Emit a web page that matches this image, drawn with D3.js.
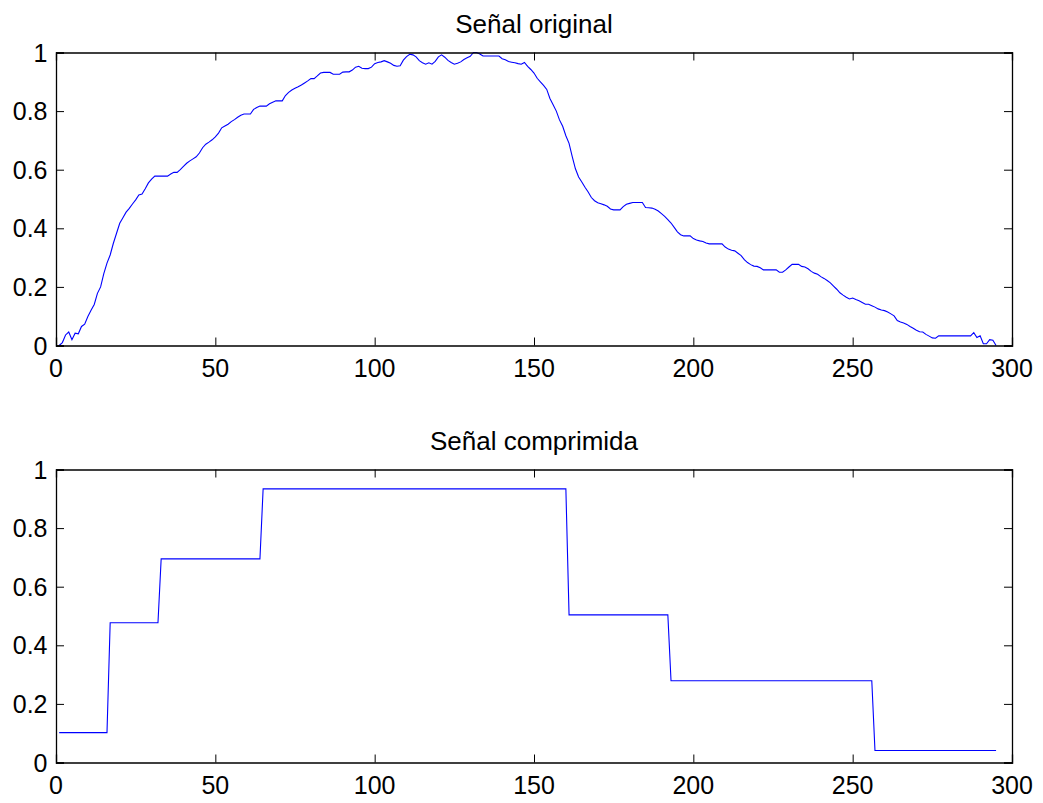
<!DOCTYPE html>
<html>
<head>
<meta charset="utf-8">
<script src="https://cdn.jsdelivr.net/npm/d3@7"></script>
<style>
  html, body { margin: 0; padding: 0; background: #fff; }
  svg { display: block; }
  text { font-family: "Liberation Sans", Arial, Helvetica, sans-serif; fill: #000; }
</style>
</head>
<body>
<svg id="chart" width="1043" height="803"></svg>
<script>
// ---------------- data ----------------
const titles = ["Señal original", "Señal comprimida"];
const xTicks = [0, 50, 100, 150, 200, 250, 300];
const yTicks = [0, 0.2, 0.4, 0.6, 0.8, 1];
const yTickLabels = ["0", "0.2", "0.4", "0.6", "0.8", "1"];

// original signal, samples 1..295
const original = [
  0.000, 0.010, 0.036, 0.046, 0.020, 0.042, 0.040, 0.065, 0.073, 0.099,   // 1-10
  0.120, 0.140, 0.178, 0.200, 0.245, 0.281, 0.309, 0.349, 0.383, 0.417,   // 11-20
  0.436, 0.455, 0.468, 0.483, 0.497, 0.514, 0.517, 0.535, 0.555, 0.568,   // 21-30
  0.578, 0.578, 0.578, 0.578, 0.578, 0.585, 0.591, 0.591, 0.600, 0.611,   // 31-40
  0.622, 0.630, 0.637, 0.644, 0.657, 0.675, 0.687, 0.694, 0.702, 0.712,   // 41-50
  0.725, 0.743, 0.749, 0.755, 0.764, 0.771, 0.779, 0.786, 0.790, 0.790,   // 51-60
  0.790, 0.806, 0.812, 0.817, 0.817, 0.817, 0.825, 0.830, 0.835, 0.835,   // 61-70
  0.835, 0.853, 0.864, 0.872, 0.878, 0.883, 0.889, 0.896, 0.903, 0.911,   // 71-80
  0.911, 0.920, 0.930, 0.932, 0.932, 0.932, 0.926, 0.926, 0.926, 0.933,   // 81-90
  0.934, 0.934, 0.940, 0.950, 0.953, 0.946, 0.945, 0.945, 0.950, 0.962,   // 91-100
  0.966, 0.968, 0.972, 0.968, 0.963, 0.956, 0.953, 0.955, 0.974, 0.986,   // 101-110
  0.994, 0.992, 0.985, 0.972, 0.965, 0.960, 0.965, 0.960, 0.970, 0.985,   // 111-120
  0.992, 0.984, 0.973, 0.966, 0.960, 0.963, 0.968, 0.976, 0.982, 0.987,   // 121-130
  1.000, 1.000, 0.995, 0.988, 0.988, 0.988, 0.988, 0.988, 0.988, 0.979,   // 131-140
  0.975, 0.969, 0.967, 0.965, 0.962, 0.960, 0.966, 0.953, 0.942, 0.930,   // 141-150
  0.912, 0.900, 0.888, 0.874, 0.843, 0.822, 0.800, 0.770, 0.748, 0.716,   // 151-160
  0.690, 0.645, 0.603, 0.575, 0.558, 0.540, 0.524, 0.505, 0.494, 0.487,   // 161-170
  0.484, 0.480, 0.475, 0.466, 0.463, 0.463, 0.463, 0.474, 0.482, 0.485,   // 171-180
  0.488, 0.488, 0.488, 0.488, 0.471, 0.470, 0.469, 0.465, 0.459, 0.450,   // 181-190
  0.441, 0.430, 0.418, 0.403, 0.388, 0.378, 0.374, 0.374, 0.374, 0.365,   // 191-200
  0.360, 0.357, 0.355, 0.350, 0.347, 0.347, 0.347, 0.347, 0.347, 0.336,   // 201-210
  0.329, 0.325, 0.323, 0.315, 0.307, 0.293, 0.283, 0.276, 0.271, 0.270,   // 211-220
  0.265, 0.258, 0.258, 0.258, 0.258, 0.258, 0.250, 0.250, 0.258, 0.268,   // 221-230
  0.277, 0.277, 0.277, 0.270, 0.268, 0.262, 0.253, 0.247, 0.243, 0.235,   // 231-240
  0.229, 0.222, 0.214, 0.203, 0.192, 0.180, 0.172, 0.165, 0.159, 0.162,   // 241-250
  0.157, 0.153, 0.147, 0.141, 0.141, 0.136, 0.131, 0.125, 0.121, 0.119,   // 251-260
  0.114, 0.108, 0.101, 0.085, 0.080, 0.077, 0.072, 0.065, 0.059, 0.052,   // 261-270
  0.047, 0.046, 0.038, 0.032, 0.026, 0.025, 0.033, 0.033, 0.033, 0.033,   // 271-280
  0.033, 0.033, 0.033, 0.033, 0.033, 0.033, 0.033, 0.044, 0.027, 0.033,   // 281-290
  0.006, 0.006, 0.020, 0.018, 0.000                                       // 291-295
];

// compressed signal: corner points of the step line
const compX = [1, 16, 17, 32, 33, 64, 65, 160, 161, 192, 193, 256, 257, 295];
const compY = [0.102, 0.102, 0.477, 0.477, 0.695, 0.695, 0.934, 0.934,
               0.504, 0.504, 0.279, 0.279, 0.041, 0.041];

// ---------------- layout ----------------
const svg = d3.select("#chart");
const left = 56, right = 1012;
const panels = [
  { top: 52.5, bottom: 345.5, title: titles[0],
    data: original.map((v, i) => [i + 1, v]) },
  { top: 469.5, bottom: 762.5, title: titles[1],
    data: compX.map((x, i) => [x, compY[i]]) }
];
const tickFont = 25, titleFont = 26, tickLen = 8;

function addText(g, x, y, str, anchor, size) {
  g.append("text")
    .attr("x", x).attr("y", y)
    .attr("text-anchor", anchor)
    .style("font-size", size + "px")
    .text(str);
}

panels.forEach(p => {
  const x = d3.scaleLinear().domain([0, 300]).range([left, right]);
  const y = d3.scaleLinear().domain([0, 1]).range([p.bottom, p.top]);
  const g = svg.append("g");

  // line
  const line = d3.line().x(d => x(d[0])).y(d => y(d[1]));
  g.append("path").datum(p.data)
    .attr("d", line)
    .attr("fill", "none")
    .attr("stroke", "#0000ff")
    .attr("stroke-width", 1.1);

  // axes (inward ticks on all sides)
  const axB = d3.axisBottom(x).tickValues(xTicks).tickSize(-tickLen).tickFormat("");
  const axT = d3.axisTop(x).tickValues(xTicks).tickSize(-tickLen).tickFormat("");
  const axL = d3.axisLeft(y).tickValues(yTicks).tickSize(-tickLen).tickFormat("");
  const axR = d3.axisRight(y).tickValues(yTicks).tickSize(-tickLen).tickFormat("");
  [[axB, `translate(0,${p.bottom})`], [axT, `translate(0,${p.top})`],
   [axL, `translate(${left},0)`], [axR, `translate(${right},0)`]].forEach(([ax, tr]) => {
    const a = g.append("g").attr("transform", tr).call(ax);
    a.selectAll("path.domain").attr("stroke", "#000").attr("stroke-width", 1.3);
    a.selectAll(".tick line").attr("stroke", "#000").attr("stroke-width", 1);
  });

  // tick labels
  xTicks.forEach(t => addText(g, x(t), p.bottom + 31.5, String(t), "middle", tickFont));
  yTicks.forEach((t, i) => addText(g, 47.5, y(t) + 9, yTickLabels[i], "end", tickFont));

  // title
  addText(g, (left + right) / 2, p.top - 20, p.title, "middle", titleFont);
});
</script>
</body>
</html>
